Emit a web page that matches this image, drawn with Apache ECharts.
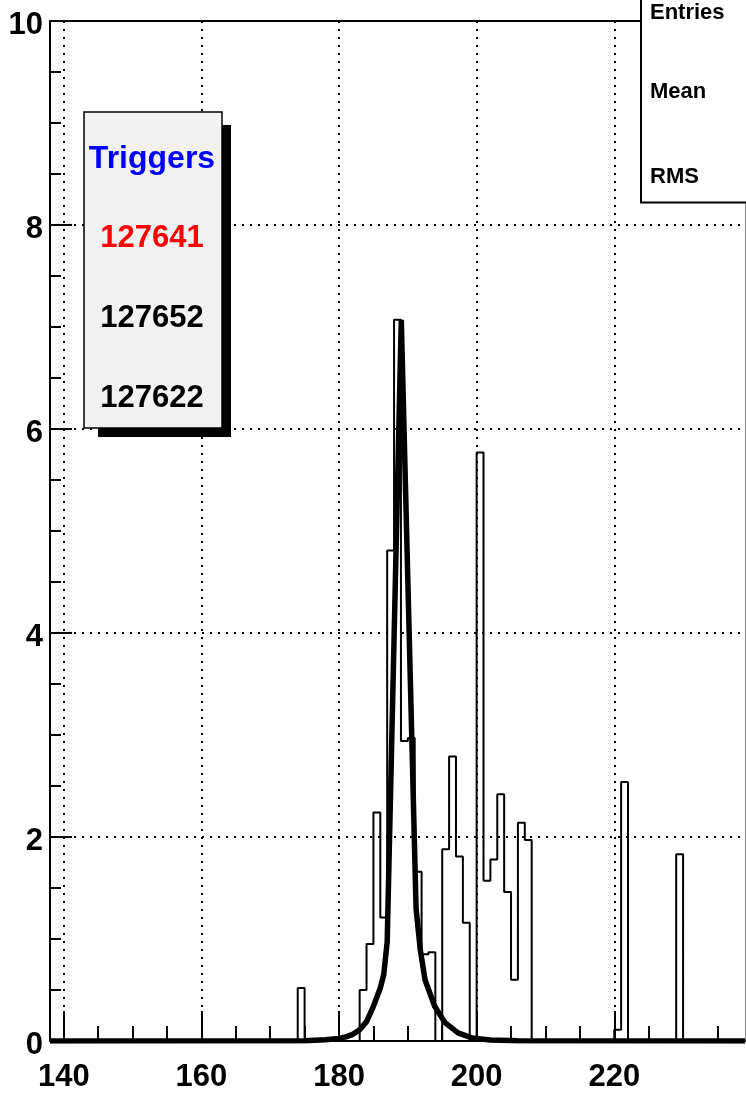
<!DOCTYPE html>
<html><head><meta charset="utf-8">
<script src="https://cdn.jsdelivr.net/npm/echarts@6/dist/echarts.min.js"></script>
<style>html,body{margin:0;padding:0;background:#fff}#chart{width:746px;height:1093px}</style>
</head><body><div id="chart"></div>
<script>
// ---- data ----
const xMin = 138, xMax = 239, binWidth = 1;
const xMajorTicks = [140, 160, 180, 200, 220];
const xMinorTicks = [145, 150, 155, 165, 170, 175, 185, 190, 195, 205, 210, 215, 225, 230, 235];
const yMin = 0, yMax = 10, yStep = 2;
// histogram: lower edge of each non-empty bin and its content
const binLow = [174, 183, 184, 185, 186, 187, 188, 189, 190, 191, 192, 193, 195, 196, 197, 198, 200, 201, 202, 203, 204, 205, 206, 207, 220, 221, 229];
const binContent = [0.52, 0.5, 0.95, 2.24, 1.21, 4.81, 7.07, 2.94, 2.97, 1.66, 0.85, 0.87, 1.88, 2.79, 1.81, 1.16, 5.77, 1.57, 1.78, 2.42, 1.46, 0.6, 2.14, 1.97, 0.11, 2.54, 1.83];
// fit curve
const fitX = [138, 175, 178, 180, 181, 182, 183, 184, 185, 186, 186.5, 187, 189.05, 191.2, 191.8, 192.5, 193.9, 195.4, 197.3, 199.3, 202, 206, 239];
const fitY = [0, 0.003, 0.012, 0.025, 0.04, 0.065, 0.11, 0.19, 0.34, 0.52, 0.65, 0.97, 7.07, 1.3, 0.9, 0.6, 0.34, 0.18, 0.08, 0.03, 0.01, 0.002, 0];
const legendTitle = 'Triggers';
const triggerIds = ['127641', '127652', '127622'];
const statsLabels = ['Entries', 'Mean', 'RMS'];

// ---- build ----
const histPts = [[xMin, 0]];
let cursor = xMin;
binLow.forEach((lo, i) => {
  if (lo > cursor) histPts.push([cursor, 0]);
  histPts.push([lo, binContent[i]]);
  cursor = lo + binWidth;
});
histPts.push([cursor, 0]);
histPts.push([xMax, 0]);
const fitPts = fitX.map((x, i) => [x, fitY[i]]);

const FONT = '"Liberation Sans", Arial, Helvetica, sans-serif';
const chart = echarts.init(document.getElementById('chart'), null, {renderer: 'canvas'});
const triggerColors = ['#ff0000', '#000000', '#000000'];
const graphics = [
  {type: 'rect', shape: {x: 98, y: 125, width: 133, height: 312}, style: {fill: '#000'}, z: 10},
  {type: 'rect', shape: {x: 84, y: 112, width: 138, height: 316}, style: {fill: '#f2f2f2', stroke: '#000', lineWidth: 1.5}, z: 11},
  {type: 'text', x: 152, y: 159, z: 12, style: {text: legendTitle, fill: '#0000ff', font: 'bold 32px ' + FONT, align: 'center', verticalAlign: 'middle', textAlign: 'center', textVerticalAlign: 'middle'}},
  {type: 'rect', shape: {x: 641, y: -5, width: 120, height: 207.5}, style: {fill: '#fff', stroke: '#000', lineWidth: 2}, z: 10}
];
triggerIds.forEach((t, i) => {
  graphics.push({type: 'text', x: 152, y: 238 + i * 80, z: 12,
    style: {text: t, fill: triggerColors[i], font: 'bold 31px ' + FONT, align: 'center', verticalAlign: 'middle', textAlign: 'center', textVerticalAlign: 'middle'}});
});
const statsY = [13, 92, 177];
statsLabels.forEach((t, i) => {
  graphics.push({type: 'text', x: 650, y: statsY[i], z: 12,
    style: {text: t, fill: '#000', font: 'bold 22px ' + FONT, align: 'left', verticalAlign: 'middle', textAlign: 'left', textVerticalAlign: 'middle'}});
});

const dotted = {color: '#000', width: 2, type: [2, 6]};
chart.setOption({
  animation: false,
  backgroundColor: '#fff',
  grid: {left: 50, right: 1, top: 21, bottom: 52, show: false},
  xAxis: [
    {type: 'value', min: xMin, max: xMax, position: 'bottom',
      axisLine: {show: true, onZero: false, lineStyle: {color: '#000', width: 2}},
      axisTick: {show: true, inside: true, length: 30, customValues: xMajorTicks, lineStyle: {color: '#000', width: 2}},
      axisLabel: {show: true, customValues: xMajorTicks, color: '#000', fontSize: 31, fontWeight: 'bold', fontFamily: FONT, margin: 21},
      splitLine: {show: true, lineStyle: dotted},
      minorTick: {show: false}},
    {type: 'value', min: xMin, max: xMax, position: 'bottom',
      axisLine: {show: false, onZero: false},
      axisTick: {show: true, inside: true, length: 15, customValues: xMinorTicks, lineStyle: {color: '#000', width: 2}},
      axisLabel: {show: false},
      splitLine: {show: false}},
    {type: 'value', min: xMin, max: xMax, position: 'top',
      axisLine: {show: true, onZero: false, lineStyle: {color: '#000', width: 2}},
      axisTick: {show: false}, axisLabel: {show: false}, splitLine: {show: false}}
  ],
  yAxis: [
    {type: 'value', min: yMin, max: yMax, interval: yStep, position: 'left',
      axisLine: {show: true, onZero: false, lineStyle: {color: '#000', width: 2}},
      axisTick: {show: true, inside: true, length: 22, lineStyle: {color: '#000', width: 2}},
      minorTick: {show: true, splitNumber: 4, length: 11, lineStyle: {color: '#000', width: 2}},
      axisLabel: {color: '#000', fontSize: 31, fontWeight: 'bold', fontFamily: FONT, margin: 7,
        formatter: '{n|{value}}',
        rich: {n: {fontSize: 31, fontWeight: 'bold', fontFamily: FONT, color: '#000', padding: [8, 0, 0, 0]}}},
      splitLine: {show: true, lineStyle: dotted}},
    {type: 'value', min: yMin, max: yMax, interval: yStep, position: 'right',
      axisLine: {show: true, onZero: false, lineStyle: {color: '#8a8a8a', width: 1}},
      axisTick: {show: false}, axisLabel: {show: false}, splitLine: {show: false}}
  ],
  series: [
    {name: 'hist', type: 'line', step: 'end', data: histPts, symbol: 'none', xAxisIndex: 0, yAxisIndex: 0,
      lineStyle: {color: '#000', width: 2}, z: 3},
    {name: 'fit', type: 'line', data: fitPts, symbol: 'none', smooth: false, xAxisIndex: 0, yAxisIndex: 0,
      lineStyle: {color: '#000', width: 5.5}, z: 4}
  ],
  graphic: graphics
});
</script></body></html>
